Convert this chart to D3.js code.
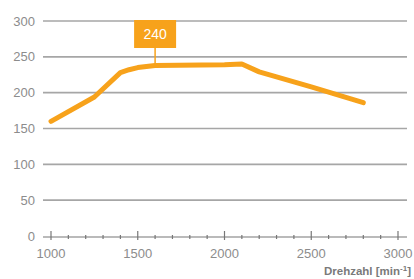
<!DOCTYPE html>
<html>
<head>
<meta charset="utf-8">
<script src="https://cdn.jsdelivr.net/npm/d3@7"></script>
<style>
  body { margin: 0; background: #fff; }
  svg text { font-family: "Liberation Sans", Arial, sans-serif; }
</style>
</head>
<body>
<svg id="chart" width="414" height="279"></svg>
<script>
// torque curve
const rpm = [1000, 1250, 1400, 1450, 1500, 1600, 2000, 2100, 2200, 2500, 2800];
const torque = [160, 194, 228, 232, 235, 238, 239, 240, 229, 208, 186];
const yTicks = [0, 50, 100, 150, 200, 250, 300];
const xTicks = [1000, 1500, 2000, 2500, 3000];
const peakRpm = 1600;
const peakLabel = "240";

const orange = "#f7a21b";
const grey = "#8c8c8c";

const svg = d3.select("#chart");
const x = d3.scaleLinear().domain([1000, 3000]).range([51, 398]);
const y = d3.scaleLinear().domain([0, 300]).range([236, 21]);

// horizontal grid (except zero line which is the axis)
svg.append("g").selectAll("line")
    .data(yTicks.filter(d => d > 0))
    .join("line")
    .attr("x1", 43).attr("x2", 407)
    .attr("y1", d => y(d)).attr("y2", d => y(d))
    .attr("stroke", "#a6a6a6").attr("stroke-width", 1.6);

// y labels
svg.append("g").selectAll("text")
    .data(yTicks)
    .join("text")
    .attr("x", 35).attr("y", d => y(d) + 4.5)
    .attr("text-anchor", "end")
    .attr("font-size", 13)
    .attr("fill", grey)
    .text(d => d);

// x axis baseline with major/minor ticks
const xAxis = svg.append("g");
xAxis.append("line")
    .attr("x1", 43).attr("x2", 407)
    .attr("y1", 237).attr("y2", 237)
    .attr("stroke", "#777").attr("stroke-width", 1.2);
xAxis.selectAll("line.minor")
    .data(d3.range(1100, 3000, 100).filter(d => d % 500 !== 0))
    .join("line").attr("class", "minor")
    .attr("x1", d => x(d)).attr("x2", d => x(d))
    .attr("y1", 235).attr("y2", 239)
    .attr("stroke", "#777").attr("stroke-width", 1.2);
xAxis.selectAll("line.major")
    .data(xTicks)
    .join("line").attr("class", "major")
    .attr("x1", d => x(d)).attr("x2", d => x(d))
    .attr("y1", 231).attr("y2", 240)
    .attr("stroke", "#777").attr("stroke-width", 1.2);
xAxis.selectAll("text")
    .data(xTicks)
    .join("text")
    .attr("x", d => x(d)).attr("y", 258)
    .attr("text-anchor", "middle")
    .attr("font-size", 13)
    .attr("fill", grey)
    .text(d => d);

// axis title
const title = svg.append("text")
    .attr("x", 411).attr("y", 275)
    .attr("text-anchor", "end")
    .attr("font-size", 11.5)
    .attr("font-weight", "bold")
    .attr("fill", "#7a7a7a");
title.append("tspan").text("Drehzahl [min");
title.append("tspan").attr("dy", -4).attr("font-size", 8).text("-1");
title.append("tspan").attr("dy", 4).text("]");

// torque line
const line = d3.line()
    .x((d, i) => x(rpm[i]))
    .y(d => y(d));

svg.append("path")
    .datum(torque)
    .attr("d", line)
    .attr("fill", "none")
    .attr("stroke", orange)
    .attr("stroke-width", 5)
    .attr("stroke-linecap", "round")
    .attr("stroke-linejoin", "round");

// peak label box
const px = x(peakRpm);
const py = y(torque[rpm.indexOf(peakRpm)]);
svg.append("line")
    .attr("x1", px).attr("x2", px)
    .attr("y1", 47).attr("y2", py)
    .attr("stroke", orange).attr("stroke-width", 1.5);
svg.append("rect")
    .attr("x", px - 21).attr("y", 20)
    .attr("width", 42).attr("height", 28)
    .attr("fill", orange);
svg.append("text")
    .attr("x", px).attr("y", 39)
    .attr("text-anchor", "middle")
    .attr("font-size", 14)
    .attr("fill", "#fff")
    .text(peakLabel);
</script>
</body>
</html>
